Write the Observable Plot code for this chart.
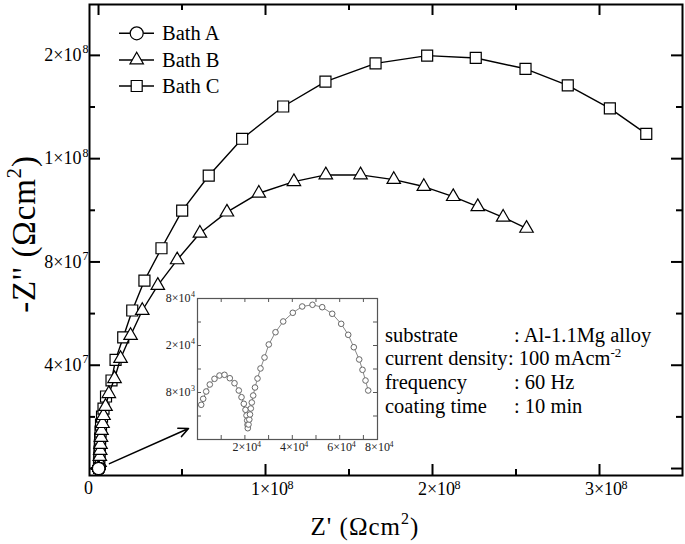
<!DOCTYPE html>
<html>
<head>
<meta charset="utf-8">
<script src="https://cdn.jsdelivr.net/npm/d3@7"></script>
<script src="https://cdn.jsdelivr.net/npm/@observablehq/plot@0.6"></script>
<style>
  body { margin: 0; background: #fff; }
  #wrap { position: relative; width: 685px; height: 544px; overflow: hidden; }
  #wrap svg { position: absolute; left: 0; top: 0; overflow: visible; }
</style>
</head>
<body>
<div id="wrap"></div>
<script>
// ---------------- DATA ----------------
// Bath A (shown in the inset; all collapse onto the origin of the main chart)
const bathA_Zre = [1560, 2400, 3670, 5190, 7170, 9280, 11390, 13630, 15610, 17430, 18570, 19540, 20250, 20680, 20970, 21100, 21220,
                   21520, 21860, 22150, 22490, 22910, 23500, 24260, 25320, 26580, 28270, 30080, 32910, 36160, 40210, 44180, 48520,
                   52620, 56840, 60630, 63590, 65950, 68230, 69620, 70890, 72030];
const bathA_Zim = [5910, 6930, 8170, 9360, 10330, 10890, 11010, 10430, 9580, 8340, 7200, 6080, 5060, 4090, 3230, 2500, 1920,
                   2550, 3400, 4260, 5280, 6300, 7490, 8850, 10380, 12090, 13960, 16170, 18260, 20090, 21570, 22640, 22930,
                   22520, 21400, 19690, 17820, 15710, 13620, 11860, 10040, 8340];
// Bath B
const bathB_Zre = [0.60e6, 0.78e6, 1.02e6, 1.20e6, 1.50e6, 1.80e6, 2.40e6, 2.99e6, 4.19e6, 6.17e6, 9.58e6, 13.2e6, 19.2e6, 26.2e6,
                   35.5e6, 47.1e6, 60.7e6, 76.9e6, 96.0e6, 117.0e6, 136.1e6, 156.9e6, 176.8e6, 194.8e6, 212.4e6, 227.1e6, 242.3e6, 256.3e6];
const bathB_Zim = [2.32e6, 4.65e6, 6.97e6, 9.29e6, 12.0e6, 14.7e6, 17.4e6, 20.5e6, 24.0e6, 29.0e6, 34.8e6, 42.6e6, 51.5e6, 61.2e6,
                   70.9e6, 80.8e6, 91.1e6, 99.3e6, 106.6e6, 111.1e6, 113.7e6, 113.7e6, 111.9e6, 109.2e6, 105.3e6, 101.4e6, 97.3e6, 93.0e6];
// Bath C
const bathC_Zre = [0.30e6, 0.48e6, 0.60e6, 0.78e6, 0.96e6, 1.20e6, 1.50e6, 2.10e6, 2.99e6, 4.49e6, 7.78e6, 10.2e6, 14.8e6, 20.2e6,
                   27.5e6, 37.7e6, 50.1e6, 66.0e6, 86.0e6, 110.6e6, 135.9e6, 165.9e6, 196.8e6, 225.9e6, 255.7e6, 281.0e6, 306.2e6, 328.0e6];
const bathC_Zim = [1.94e6, 4.26e6, 6.58e6, 8.91e6, 11.6e6, 14.3e6, 17.0e6, 20.1e6, 23.2e6, 27.9e6, 34.1e6, 42.1e6, 50.8e6, 61.2e6,
                   72.8e6, 85.3e6, 99.9e6, 113.4e6, 127.7e6, 140.2e6, 149.8e6, 156.9e6, 159.9e6, 159.0e6, 154.8e6, 148.4e6, 139.5e6, 129.6e6];

const seriesNames = ["Bath A", "Bath B", "Bath C"];

// main axis ticks / labels (labels as printed in the original)
const xMajorTicks = [0, 1e8, 2e8, 3e8];
const xMinorTicks = [0.5e8, 1.5e8, 2.5e8];
const xTickLabelBase = ["0", "1×10", "2×10", "3×10"];
const xTickLabelExp  = ["", "8", "8", "8"];
const yMajorTicks = [0, 4e7, 8e7, 1.2e8, 1.6e8];
const yMinorTicks = [2e7, 6e7, 1e8, 1.4e8];
const yLabelValues = [4e7, 8e7, 1.2e8, 1.6e8];
const yTickLabelBase = ["4×10", "8×10", "1×10", "2×10"];
const yTickLabelExp  = ["7", "7", "8", "8"];

// inset ticks / labels
const insetXMinorTicks = [1e4, 2e4, 3e4, 4e4, 5e4, 6e4, 7e4];
const insetYMinorTicks = [4e3, 8e3, 12e3, 16e3, 20e3];
const insetXLabelValues = [2e4, 4e4, 6e4, 7.595e4];
const insetXLabelBase = ["2×10", "4×10", "6×10", "8×10"];
const insetXLabelExp = ["4", "4", "4", "4"];
const insetYLabelValues = [8e3, 16e3, 24e3];
const insetYLabelBase = ["8×10", "2×10", "8×10"];
const insetYLabelExp = ["3", "4", "4"];

const conditionLabels = ["substrate", "current density", "frequency", "coating time"];
const conditionValues = [": Al-1.1Mg alloy", ": 100 mAcm", ": 60 Hz", ": 10 min"];
const conditionSup = ["", "-2", "", ""];

// ---------------- BUILD ----------------
const serif = "'Liberation Serif', 'Times New Roman', Times, serif";
const bathA = bathA_Zre.map((x, i) => ({x, y: bathA_Zim[i]}));
const bathB = bathB_Zre.map((x, i) => ({x, y: bathB_Zim[i]}));
const bathC = bathC_Zre.map((x, i) => ({x, y: bathC_Zim[i]}));

const W = 685, H = 544;
const mL = 89, mR = 3, mT = 4, mB = 69;
const pw = W - mL - mR, ph = H - mT - mB;
const xDomain = [-5.4e6, 349.7e6];
const yDomain = [-2.7e6, 179.7e6];

// inset layout
const iLeft = 160, iTop = 285, iW = 230, iH = 175;
const imL = 37, imR = 13, imT = 13, imB = 21;
const ipw = iW - imL - imR, iph = iH - imT - imB;

// arrow end: just left/above the inset's lower-left corner
const xs = Plot.scale({x: {domain: xDomain, range: [mL, W - mR]}});
const ys = Plot.scale({y: {domain: yDomain, range: [H - mB, mT]}});
const arrowEnd = {x: xs.invert(iLeft + imL - 9), y: ys.invert(iTop + imT + iph - 11)};

const xLabels = xMajorTicks.map((v, i) => ({v, base: xTickLabelBase[i], exp: xTickLabelExp[i]}));
const yLabels = yLabelValues.map((v, i) => ({v, base: yTickLabelBase[i], exp: yTickLabelExp[i]}));

const tickStyle = {stroke: "#000", strokeWidth: 2};

const main = Plot.plot({
  width: W, height: H,
  marginLeft: mL, marginRight: mR, marginTop: mT, marginBottom: mB,
  x: {domain: xDomain, axis: null},
  y: {domain: yDomain, axis: null},
  style: {fontFamily: serif, background: "transparent", overflow: "visible"},
  marks: [
    // inward ticks
    Plot.tickX(xMajorTicks, {x: d => d, insetTop: ph - 11, ...tickStyle}),
    Plot.tickX(xMajorTicks, {x: d => d, insetBottom: ph - 11, ...tickStyle}),
    Plot.tickX(xMinorTicks, {x: d => d, insetTop: ph - 6, ...tickStyle}),
    Plot.tickX(xMinorTicks, {x: d => d, insetBottom: ph - 6, ...tickStyle}),
    Plot.tickY(yMajorTicks, {y: d => d, insetRight: pw - 11, ...tickStyle}),
    Plot.tickY(yMajorTicks, {y: d => d, insetLeft: pw - 11, ...tickStyle}),
    Plot.tickY(yMinorTicks, {y: d => d, insetRight: pw - 6, ...tickStyle}),
    Plot.tickY(yMinorTicks, {y: d => d, insetLeft: pw - 6, ...tickStyle}),
    Plot.frame({stroke: "#000", strokeWidth: 2}),
    // tick labels
    Plot.text(xLabels.filter(d => d.v !== 0), {x: "v", text: "base", frameAnchor: "bottom", dy: 19, dx: 4, fontSize: 18, letterSpacing: 0.6, fill: "#000"}),
    Plot.text(xLabels.filter(d => d.v !== 0), {x: "v", text: "exp", frameAnchor: "bottom", dy: 13, dx: 22, textAnchor: "start", fontSize: 12, fill: "#000"}),
    Plot.text(xLabels.filter(d => d.v === 0), {x: "v", text: "base", frameAnchor: "bottom", dy: 18, dx: -10, fontSize: 18, fill: "#000"}),
    Plot.text(yLabels, {y: "v", text: "base", frameAnchor: "left", dx: -8, textAnchor: "end", fontSize: 18, letterSpacing: 0.6, fill: "#000"}),
    Plot.text(yLabels, {y: "v", text: "exp", frameAnchor: "left", dx: -7, dy: -6, textAnchor: "start", fontSize: 12, fill: "#000"}),
    // series
    Plot.line(bathC, {x: "x", y: "y", stroke: "#000", strokeWidth: 1.4}),
    Plot.dot(bathC, {x: "x", y: "y", symbol: "square", r: 6.2, fill: "#fff", stroke: "#000", strokeWidth: 1.2}),
    Plot.line(bathB, {x: "x", y: "y", stroke: "#000", strokeWidth: 1.4}),
    Plot.dot(bathB, {x: "x", y: "y", symbol: "triangle", r: 5, fill: "#fff", stroke: "#000", strokeWidth: 1.2}),
    Plot.line(bathA, {x: "x", y: "y", stroke: "#000", strokeWidth: 1.4}),
    Plot.dot(bathA, {x: "x", y: "y", symbol: "circle", r: 6.2, fill: "#fff", stroke: "#000", strokeWidth: 1.2}),
    // arrow pointing from Bath A to the inset
    Plot.arrow([{x1: bathA[0].x, y1: bathA[0].y, x2: arrowEnd.x, y2: arrowEnd.y}],
      {x1: "x1", y1: "y1", x2: "x2", y2: "y2", insetStart: 12, headLength: 10, headAngle: 50, stroke: "#000", strokeWidth: 1.6})
  ]
});
main.style.left = "0px"; main.style.top = "0px";
document.getElementById("wrap").appendChild(main);

const svg = d3.select(main);

// axis titles
const xt = svg.append("text").attr("x", 365).attr("y", 535).attr("text-anchor", "middle")
  .attr("font-family", serif).attr("font-size", 25).attr("letter-spacing", 1).attr("fill", "#000");
xt.append("tspan").text("Z' (Ωcm");
xt.append("tspan").attr("dy", -11).attr("font-size", 16).text("2");
xt.append("tspan").attr("dy", 11).text(")");

const yt = svg.append("text").attr("transform", "translate(35,234) rotate(-90)").attr("text-anchor", "middle")
  .attr("font-family", serif).attr("font-size", 33).attr("letter-spacing", 0.8).attr("fill", "#000");
yt.append("tspan").text("-Z'' (Ωcm");
yt.append("tspan").attr("dy", -14).attr("font-size", 21).text("2");
yt.append("tspan").attr("dy", 14).text(")");

// legend
const legendSymbols = [{type: d3.symbolCircle, r: 6.5}, {type: d3.symbolTriangle, r: 5}, {type: d3.symbolSquare, r: 6.2}];
const legendRowY = [33.3, 60, 86];
seriesNames.forEach((name, i) => {
  const g = svg.append("g").attr("transform", `translate(0,${legendRowY[i]})`);
  g.append("line").attr("x1", 119).attr("x2", 154).attr("y1", 0).attr("y2", 0).attr("stroke", "#000").attr("stroke-width", 1.4);
  g.append("path").attr("transform", "translate(136.7,0)")
    .attr("d", d3.symbol(legendSymbols[i].type, Math.PI * legendSymbols[i].r ** 2)())
    .attr("fill", "#fff").attr("stroke", "#000").attr("stroke-width", 1.2);
  g.append("text").attr("x", 162).attr("y", 7).attr("text-anchor", "start")
    .attr("font-family", serif).attr("font-size", 20.5).attr("fill", "#000").text(name);
});

// conditions text block
const condY = [341.7, 365, 388.5, 412.5];
conditionLabels.forEach((lab, i) => {
  svg.append("text").attr("x", 385).attr("y", condY[i]).attr("text-anchor", "start")
    .attr("font-family", serif).attr("font-size", 20.5).attr("fill", "#000").text(lab);
  const t = svg.append("text").attr("x", i === 1 ? 508 : 514).attr("y", condY[i]).attr("text-anchor", "start")
    .attr("font-family", serif).attr("font-size", 20.5).attr("fill", "#000");
  t.append("tspan").text(conditionValues[i]);
  if (conditionSup[i]) t.append("tspan").attr("dy", -8).attr("font-size", 13).text(conditionSup[i]);
});

// ---------------- INSET ----------------
const ixLabels = insetXLabelValues.map((v, i) => ({v, base: insetXLabelBase[i], exp: insetXLabelExp[i]}));
const iyLabels = insetYLabelValues.map((v, i) => ({v, base: insetYLabelBase[i], exp: insetYLabelExp[i]}));
const gray = "#555";
const inset = Plot.plot({
  width: iW, height: iH,
  marginLeft: imL, marginRight: imR, marginTop: imT, marginBottom: imB,
  x: {domain: [0, 75950], axis: null},
  y: {domain: [0, 24000], axis: null},
  style: {fontFamily: serif, background: "transparent", overflow: "visible"},
  marks: [
    Plot.tickX(insetXMinorTicks, {x: d => d, insetTop: iph - 4, stroke: gray}),
    Plot.tickX(insetXMinorTicks, {x: d => d, insetBottom: iph - 4, stroke: gray}),
    Plot.tickY(insetYMinorTicks, {y: d => d, insetRight: ipw - 4, stroke: gray}),
    Plot.tickY(insetYMinorTicks, {y: d => d, insetLeft: ipw - 4, stroke: gray}),
    Plot.frame({stroke: gray, strokeWidth: 1.2}),
    Plot.text(ixLabels, {x: "v", text: "base", frameAnchor: "bottom", dy: 11, fontSize: 12, fill: "#222"}),
    Plot.text(ixLabels, {x: "v", text: "exp", frameAnchor: "bottom", dy: 7, dx: 12, textAnchor: "start", fontSize: 8, fill: "#222"}),
    Plot.text(iyLabels, {y: "v", text: "base", frameAnchor: "left", dx: -7, textAnchor: "end", fontSize: 12, fill: "#222"}),
    Plot.text(iyLabels, {y: "v", text: "exp", frameAnchor: "left", dx: -6.5, dy: -4, textAnchor: "start", fontSize: 8, fill: "#222"}),
    Plot.line(bathA, {x: "x", y: "y", stroke: "#888", strokeWidth: 1}),
    Plot.dot(bathA, {x: "x", y: "y", r: 2.8, fill: "#fff", stroke: "#666", strokeWidth: 1})
  ]
});
inset.style.left = iLeft + "px"; inset.style.top = iTop + "px";
document.getElementById("wrap").appendChild(inset);
</script>
</body>
</html>
